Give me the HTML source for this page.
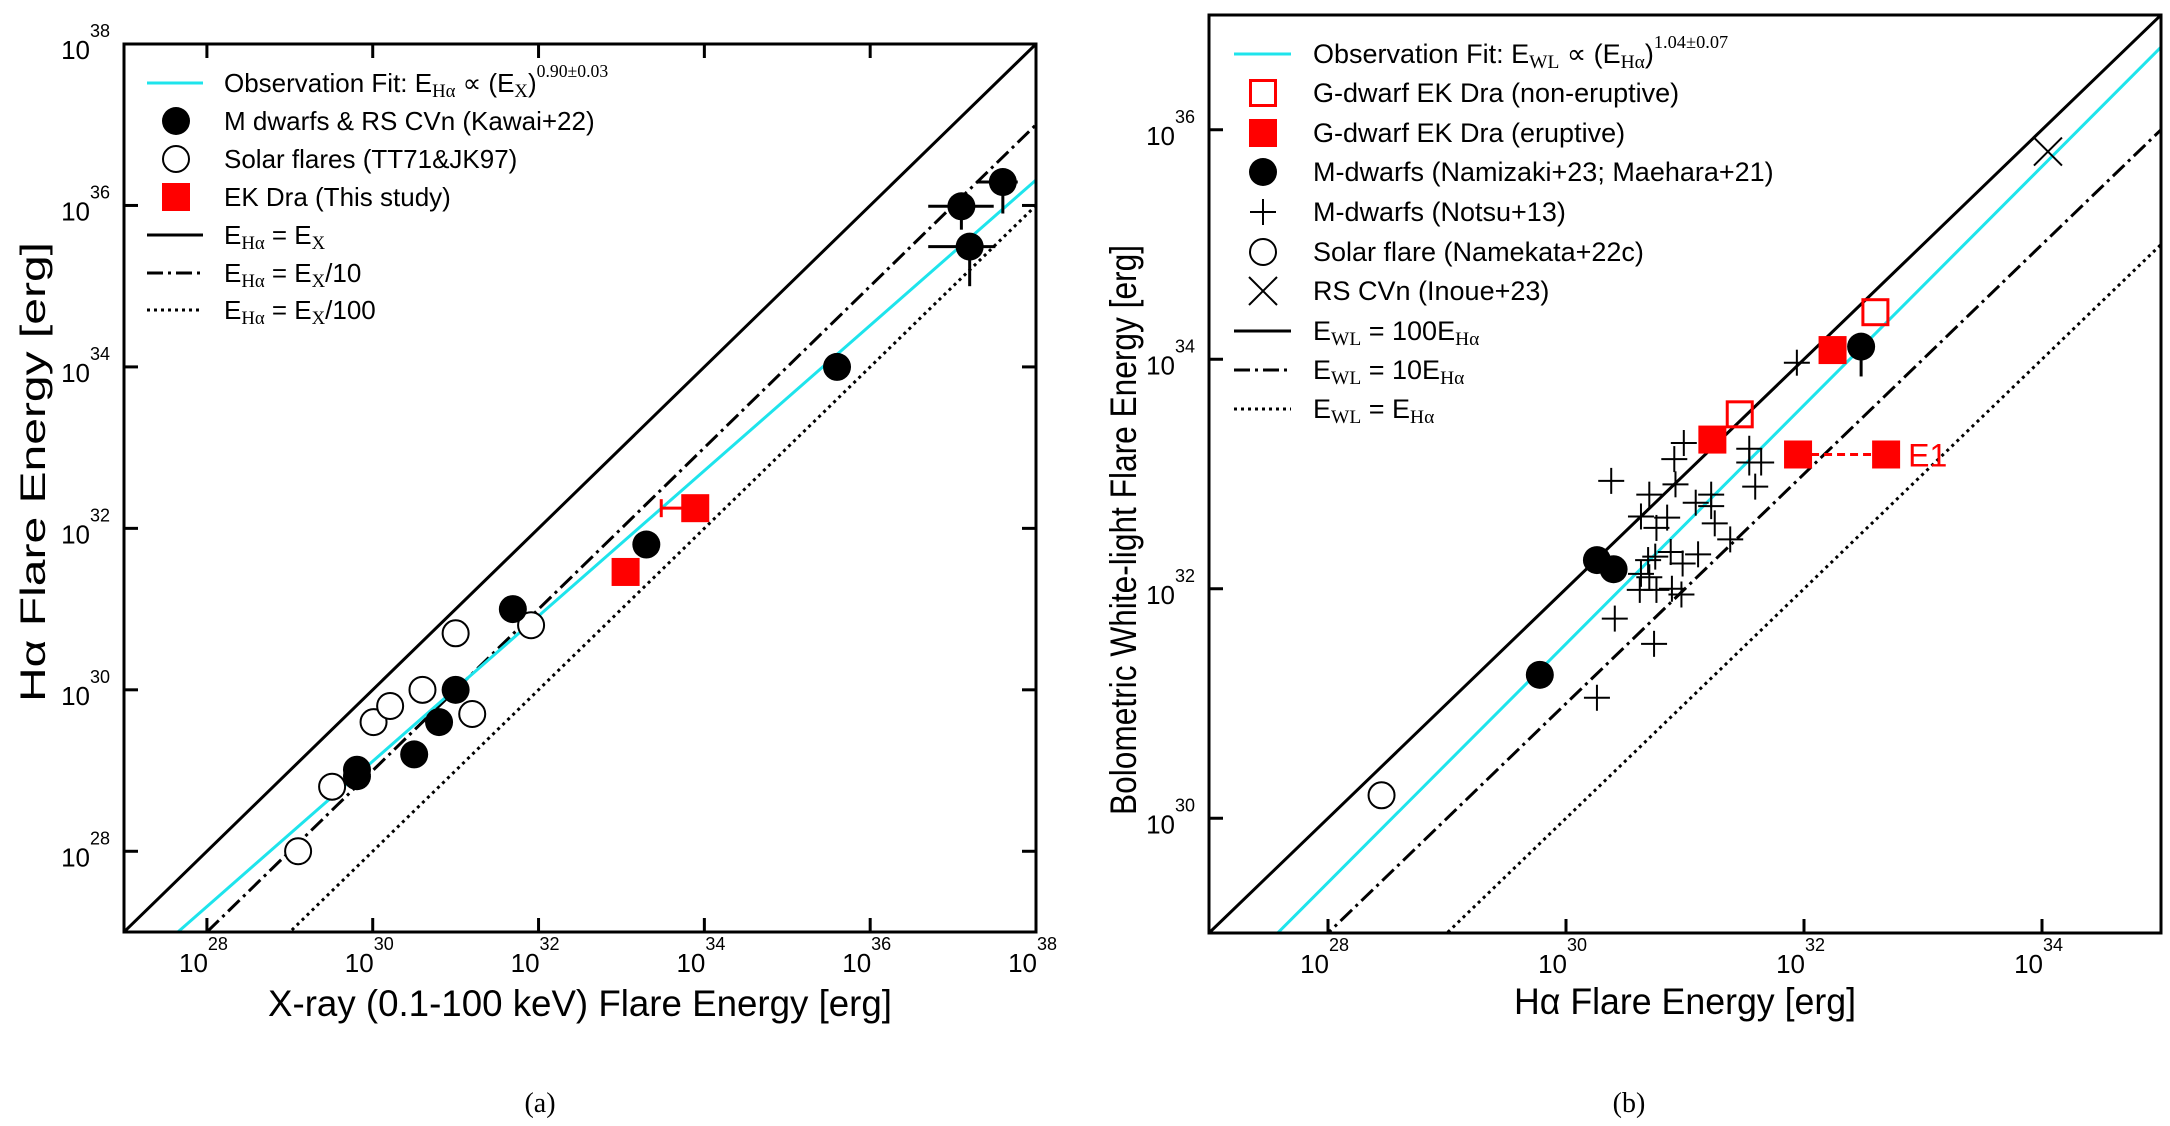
<!DOCTYPE html>
<html><head><meta charset="utf-8"><style>
html,body{margin:0;padding:0;background:#fff;overflow:hidden;width:2170px;height:1126px}
svg{display:block}
text{font-family:"Liberation Sans",sans-serif;fill:#000}
.serif{font-family:"Liberation Serif",serif}
</style></head><body>
<svg id="fig" width="2170" height="1126" viewBox="0 0 2170 1126" xmlns="http://www.w3.org/2000/svg"></svg>
<script>
// ---------- Panel (a) data ----------
const aMdwarfX = [37.60, 37.10, 37.20, 35.60, 33.30, 31.69, 31.00, 30.80, 30.50, 29.81, 29.81];
const aMdwarfY = [36.29, 35.99, 35.49, 34.00, 31.80, 31.00, 30.00, 29.60, 29.20, 29.01, 28.93];
const aErrXLo = [37.28, 36.70, 36.70];
const aErrXHi = [37.78, 37.49, 37.51];
const aErrYLo = [35.90, 35.70, 35.00];
const aSolarX = [29.10, 29.51, 30.01, 30.21, 30.60, 31.00, 31.20, 31.91];
const aSolarY = [28.00, 28.80, 29.60, 29.80, 30.00, 30.70, 29.70, 30.80];
const aEKX = [33.05, 33.89];
const aEKY = [31.46, 32.25];
const aEKLimitX = [33.48];
const aFitSlope = [0.90];
const aFitIntercept = [2.115];
const aTicks = [28, 30, 32, 34, 36, 38];
// ---------- Panel (b) data ----------
const bNonErX = [32.60, 31.46];
const bNonErY = [34.41, 33.52];
const bErX = [32.24, 31.23, 31.95, 32.69];
const bErY = [34.08, 33.30, 33.17, 33.17];
const bMX = [32.48, 30.26, 30.40, 29.78];
const bMY = [34.11, 32.25, 32.17, 31.25];
const bMErrYLo = [33.85];
const bNotsuX = [31.94,30.38,30.99,30.91,30.92,30.70,30.63,30.76,30.85,31.09,31.22,31.22,31.25,31.54,31.54,31.64,31.59,31.38,30.75,30.88,30.98,31.11,30.63,30.70,30.62,30.76,30.89,30.97,30.41,30.74,30.26,30.69];
const bNotsuY = [33.97,32.94,33.27,33.13,32.91,32.82,32.63,32.53,32.62,32.75,32.82,32.72,32.57,33.22,33.10,33.10,32.89,32.43,32.28,32.32,32.22,32.30,32.13,32.10,31.99,31.99,32.00,31.95,31.74,31.52,31.05,32.25];
const bSolarX = [28.45];
const bSolarY = [30.20];
const bRSX = [34.05];
const bRSY = [35.81];
const bFitSlope = [1.04];
const bFitIntercept = [0.32];
const bXTicks = [28, 30, 32, 34];
const bYTicks = [30, 32, 34, 36];

const NS = "http://www.w3.org/2000/svg";
const svg = document.getElementById('fig');
function mk(tag, attrs, parent) {
  const e = document.createElementNS(NS, tag);
  for (const k in attrs) e.setAttribute(k, attrs[k]);
  (parent || svg).appendChild(e);
  return e;
}
function panel(x0, x1, y0, y1, L, R, T, B) {
  return {
    x: v => L + (v - x0) / (x1 - x0) * (R - L),
    y: v => B - (v - y0) / (y1 - y0) * (B - T),
    x0, x1, y0, y1, L, R, T, B
  };
}
const pa = panel(27, 38, 27, 38, 124, 1036, 44, 932);
const pb = panel(27, 35, 29, 37, 1209, 2161, 15, 933);

function clipFor(p, id) {
  const defs = mk('defs', {});
  const cp = mk('clipPath', {id: id}, defs);
  mk('rect', {x: p.L, y: p.T, width: p.R - p.L, height: p.B - p.T}, cp);
}
clipFor(pa, 'ca'); clipFor(pb, 'cb');

function refLine(p, slope, icpt, style, clip, name) {
  const g = mk('g', {'clip-path': 'url(#' + clip + ')'});
  const l = mk('line', Object.assign({x1: p.x(p.x0 - 1), y1: p.y(slope * (p.x0 - 1) + icpt), x2: p.x(p.x1 + 1), y2: p.y(slope * (p.x1 + 1) + icpt), fill: 'none'}, style), g);
  
  
}
const SOLID = {stroke: '#000', 'stroke-width': 3};
const DASHDOT = {stroke: '#000', 'stroke-width': 3, 'stroke-dasharray': '16 5 3 5'};
const DOTTED = {stroke: '#000', 'stroke-width': 3, 'stroke-dasharray': '3 4'};
const CYAN = {stroke: '#1ee4ec', 'stroke-width': 3};

function filledCircle(cx, cy, name) {
  const c = mk('circle', {cx, cy, r: 14, fill: '#000'});
  
  
}
function openCircle(cx, cy, name) {
  const c = mk('circle', {cx, cy, r: 13, fill: '#fff', stroke: '#000', 'stroke-width': 2});
  
  
}
function square(cx, cy, filled, name) {
  const r = filled ? mk('rect', {x: cx - 14, y: cy - 14, width: 28, height: 28, fill: '#f00'})
                   : mk('rect', {x: cx - 12.5, y: cy - 12.5, width: 25, height: 25, fill: 'none', stroke: '#f00', 'stroke-width': 3});
  
  
}
function plus(cx, cy, name) {
  const g = mk('g', {stroke: '#000', 'stroke-width': 2});
  mk('line', {x1: cx - 13, y1: cy, x2: cx + 13, y2: cy}, g);
  mk('line', {x1: cx, y1: cy - 13, x2: cx, y2: cy + 13}, g);
  
  
}
function cross(cx, cy, name) {
  const g = mk('g', {stroke: '#000', 'stroke-width': 2});
  mk('line', {x1: cx - 14, y1: cy - 14, x2: cx + 14, y2: cy + 14}, g);
  mk('line', {x1: cx - 14, y1: cy + 14, x2: cx + 14, y2: cy - 14}, g);
  
  
}
function txt(x, y, s, size, extra) {
  const t = mk('text', Object.assign({x, y, 'font-size': size}, extra || {}));
  t.textContent = s;
  return t;
}
function frame(p, name) {
  const r = mk('rect', {x: p.L, y: p.T, width: p.R - p.L, height: p.B - p.T, fill: 'none', stroke: '#000', 'stroke-width': 3});
  
  
}
function xTicks(p, ticks, both, name) {
  const g = mk('g', {});
  
  
  ticks.forEach(v => {
    const X = p.x(v);
    mk('line', {x1: X, y1: p.B, x2: X, y2: p.B - 14, stroke: '#000', 'stroke-width': 3}, g);
    if (both) mk('line', {x1: X, y1: p.T, x2: X, y2: p.T + 14, stroke: '#000', 'stroke-width': 3}, g);
    txt(X + 1, p.B + 40, '10', 26, {'text-anchor': 'end'});
    txt(X + 1, p.B + 18, String(v), 18);
  });
}
function yTicks(p, ticks, both, name) {
  const g = mk('g', {});
  
  
  ticks.forEach(v => {
    const Y = p.y(v);
    mk('line', {x1: p.L, y1: Y, x2: p.L + 14, y2: Y, stroke: '#000', 'stroke-width': 3}, g);
    if (both) mk('line', {x1: p.R, y1: Y, x2: p.R - 14, y2: Y, stroke: '#000', 'stroke-width': 3}, g);
    txt(p.L - 34, Y + 15, '10', 26, {'text-anchor': 'end'});
    txt(p.L - 34, Y - 7, String(v), 18);
  });
}

// ================= Panel (a) =================
refLine(pa, 1, 0, SOLID, 'ca', 'line-equal-a');
refLine(pa, 1, -1, DASHDOT, 'ca', 'line-tenth-a');
refLine(pa, 1, -2, DOTTED, 'ca', 'line-hundredth-a');
refLine(pa, aFitSlope[0], aFitIntercept[0], CYAN, 'ca', 'fit-line-a');

for (let i = 0; i < aErrXLo.length; i++) {
  const g = mk('g', {stroke: '#000', 'stroke-width': 3});
  mk('line', {x1: pa.x(aErrXLo[i]), y1: pa.y(aMdwarfY[i]), x2: pa.x(aErrXHi[i]), y2: pa.y(aMdwarfY[i])}, g);
  mk('line', {x1: pa.x(aMdwarfX[i]), y1: pa.y(aMdwarfY[i]), x2: pa.x(aMdwarfX[i]), y2: pa.y(aErrYLo[i])}, g);
  
  
}
aSolarX.forEach((v, i) => openCircle(pa.x(v), pa.y(aSolarY[i]), 'solar-flare-point'));
aMdwarfX.forEach((v, i) => filledCircle(pa.x(v), pa.y(aMdwarfY[i]), 'mdwarf-point'));
{
  const g = mk('g', {stroke: '#f00', 'stroke-width': 3});
  const yy = pa.y(aEKY[1]);
  mk('line', {x1: pa.x(aEKLimitX[0]), y1: yy, x2: pa.x(aEKX[1]), y2: yy}, g);
  mk('line', {x1: pa.x(aEKLimitX[0]), y1: yy - 9, x2: pa.x(aEKLimitX[0]), y2: yy + 9}, g);
  
  
}
aEKX.forEach((v, i) => square(pa.x(v), pa.y(aEKY[i]), true, 'ek-dra-point'));

xTicks(pa, aTicks, true, 'x-ticks-a');
yTicks(pa, aTicks, true, 'y-ticks-a');
frame(pa, 'plot-frame-a');

const xla = txt(580, 1016, 'X-ray (0.1-100 keV) Flare Energy [erg]', 37, {'text-anchor': 'middle', textLength: 624, lengthAdjust: 'spacingAndGlyphs'});
 
const yla = txt(0, 0, 'Hα Flare Energy [erg]', 35, {'text-anchor': 'middle', textLength: 460, lengthAdjust: 'spacingAndGlyphs', transform: 'translate(45,472) rotate(-90)'});
 
const capA = txt(540, 1112, '(a)', 28, {'text-anchor': 'middle', class: 'serif'});
 
</script>
<script>
// ---------- Legends & panel (b) ----------
function legendLine(x1, x2, y, style, name) {
  const l = mk('line', Object.assign({x1, y1: y, x2, y2: y}, style));
  
  
}
function rich(x, y, parts, size, name) {
  const t = mk('text', {x, y, 'font-size': size});
  parts.forEach(([s, k]) => {
    const sp = mk('tspan', {}, t);
    if (k === 's') { sp.setAttribute('font-size', size * 0.72); sp.setAttribute('class', 'serif'); sp.setAttribute('dy', 5); }
    else if (k === 'p') { sp.setAttribute('font-size', size * 0.68); sp.setAttribute('class', 'serif'); sp.setAttribute('dy', -15); }
    else if (k === 'b') { sp.setAttribute('dy', -5); }
    sp.textContent = s;
  });
  
  
  return t;
}
const LA = {ls: 147, le: 203, tx: 224, fs: 26};
const rowsA = [83, 121, 159, 197, 235, 273, 310];
legendLine(LA.ls, LA.le, rowsA[0], CYAN, 'legend-fit-a');
rich(LA.tx, rowsA[0] + 9, [['Observation Fit: E', 'n'], ['Hα', 's'], [' ∝ (E', 'b'], ['X', 's'], [')', 'b'], ['0.90±0.03', 'p']], LA.fs, 'legend-fit-a-label');
filledCircle(176, rowsA[1], 'legend-mdwarf-marker');
rich(LA.tx, rowsA[1] + 9, [['M dwarfs & RS CVn (Kawai+22)', 'n']], LA.fs, 'legend-mdwarf-label');
openCircle(176, rowsA[2], 'legend-solar-marker');
rich(LA.tx, rowsA[2] + 9, [['Solar flares (TT71&JK97)', 'n']], LA.fs, 'legend-solar-label');
square(176, rowsA[3], true, 'legend-ekdra-marker');
rich(LA.tx, rowsA[3] + 9, [['EK Dra (This study)', 'n']], LA.fs, 'legend-ekdra-label');
legendLine(LA.ls, LA.le, rowsA[4], SOLID, 'legend-equal-a');
rich(LA.tx, rowsA[4] + 9, [['E', 'n'], ['Hα', 's'], [' = E', 'b'], ['X', 's']], LA.fs, 'legend-equal-a-label');
legendLine(LA.ls, LA.le, rowsA[5], DASHDOT, 'legend-tenth-a');
rich(LA.tx, rowsA[5] + 9, [['E', 'n'], ['Hα', 's'], [' = E', 'b'], ['X', 's'], ['/10', 'b']], LA.fs, 'legend-tenth-a-label');
legendLine(LA.ls, LA.le, rowsA[6], DOTTED, 'legend-hundredth-a');
rich(LA.tx, rowsA[6] + 9, [['E', 'n'], ['Hα', 's'], [' = E', 'b'], ['X', 's'], ['/100', 'b']], LA.fs, 'legend-hundredth-a-label');

// ================= Panel (b) =================
refLine(pb, 1, 2, SOLID, 'cb', 'line-100x-b');
refLine(pb, 1, 1, DASHDOT, 'cb', 'line-10x-b');
refLine(pb, 1, 0, DOTTED, 'cb', 'line-1x-b');
refLine(pb, bFitSlope[0], bFitIntercept[0], CYAN, 'cb', 'fit-line-b');

bNotsuX.forEach((v, i) => plus(pb.x(v), pb.y(bNotsuY[i]), 'notsu-point'));
bRSX.forEach((v, i) => cross(pb.x(v), pb.y(bRSY[i]), 'rscvn-point'));
bSolarX.forEach((v, i) => openCircle(pb.x(v), pb.y(bSolarY[i]), 'solar-flare-point-b'));
{
  const g = mk('g', {stroke: '#000', 'stroke-width': 3});
  mk('line', {x1: pb.x(bMX[0]), y1: pb.y(bMY[0]), x2: pb.x(bMX[0]), y2: pb.y(bMErrYLo[0])}, g);
  
  
}
bMX.forEach((v, i) => filledCircle(pb.x(v), pb.y(bMY[i]), 'mdwarf-point-b'));
{
  const l = mk('line', {x1: pb.x(bErX[2]), y1: pb.y(bErY[2]), x2: pb.x(bErX[3]), y2: pb.y(bErY[3]), stroke: '#f00', 'stroke-width': 3, 'stroke-dasharray': '8 5'});
  
  
}
bErX.forEach((v, i) => square(pb.x(v), pb.y(bErY[i]), true, 'eruptive-point'));
bNonErX.forEach((v, i) => square(pb.x(v), pb.y(bNonErY[i]), false, 'non-eruptive-point'));
const e1 = txt(pb.x(bErX[3]) + 22, pb.y(bErY[3]) + 12, 'E1', 32, {style: 'fill:#f00'});
 

xTicks(pb, bXTicks, false, 'x-ticks-b');
yTicks(pb, bYTicks, false, 'y-ticks-b');
frame(pb, 'plot-frame-b');

const xlb = txt(1685, 1014, 'Hα Flare Energy [erg]', 37, {'text-anchor': 'middle', textLength: 342, lengthAdjust: 'spacingAndGlyphs'});
 
const ylb = txt(0, 0, 'Bolometric White-light Flare Energy [erg]', 37, {'text-anchor': 'middle', textLength: 570, lengthAdjust: 'spacingAndGlyphs', transform: 'translate(1136,530) rotate(-90)'});
 
const capB = txt(1629, 1112, '(b)', 28, {'text-anchor': 'middle', class: 'serif'});
 

const LB = {ls: 1234, le: 1291, tx: 1313, fs: 27, mx: 1263};
const rowsB = [54, 93, 133, 172, 212, 252, 291, 331, 370, 409];
legendLine(LB.ls, LB.le, rowsB[0], CYAN, 'legend-fit-b');
rich(LB.tx, rowsB[0] + 9, [['Observation Fit: E', 'n'], ['WL', 's'], [' ∝ (E', 'b'], ['Hα', 's'], [')', 'b'], ['1.04±0.07', 'p']], LB.fs, 'legend-fit-b-label');
square(LB.mx, rowsB[1], false, 'legend-non-eruptive-marker');
rich(LB.tx, rowsB[1] + 9, [['G-dwarf EK Dra (non-eruptive)', 'n']], LB.fs, 'legend-non-eruptive-label');
square(LB.mx, rowsB[2], true, 'legend-eruptive-marker');
rich(LB.tx, rowsB[2] + 9, [['G-dwarf EK Dra (eruptive)', 'n']], LB.fs, 'legend-eruptive-label');
filledCircle(LB.mx, rowsB[3], 'legend-mdwarf-b-marker');
rich(LB.tx, rowsB[3] + 9, [['M-dwarfs (Namizaki+23; Maehara+21)', 'n']], LB.fs, 'legend-mdwarf-b-label');
plus(LB.mx, rowsB[4], 'legend-notsu-marker');
rich(LB.tx, rowsB[4] + 9, [['M-dwarfs (Notsu+13)', 'n']], LB.fs, 'legend-notsu-label');
openCircle(LB.mx, rowsB[5], 'legend-solar-b-marker');
rich(LB.tx, rowsB[5] + 9, [['Solar flare (Namekata+22c)', 'n']], LB.fs, 'legend-solar-b-label');
cross(LB.mx, rowsB[6], 'legend-rscvn-marker');
rich(LB.tx, rowsB[6] + 9, [['RS CVn (Inoue+23)', 'n']], LB.fs, 'legend-rscvn-label');
legendLine(LB.ls, LB.le, rowsB[7], SOLID, 'legend-100x-b');
rich(LB.tx, rowsB[7] + 9, [['E', 'n'], ['WL', 's'], [' = 100E', 'b'], ['Hα', 's']], LB.fs, 'legend-100x-b-label');
legendLine(LB.ls, LB.le, rowsB[8], DASHDOT, 'legend-10x-b');
rich(LB.tx, rowsB[8] + 9, [['E', 'n'], ['WL', 's'], [' = 10E', 'b'], ['Hα', 's']], LB.fs, 'legend-10x-b-label');
legendLine(LB.ls, LB.le, rowsB[9], DOTTED, 'legend-1x-b');
rich(LB.tx, rowsB[9] + 9, [['E', 'n'], ['WL', 's'], [' = E', 'b'], ['Hα', 's']], LB.fs, 'legend-1x-b-label');
</script>
</body></html>
